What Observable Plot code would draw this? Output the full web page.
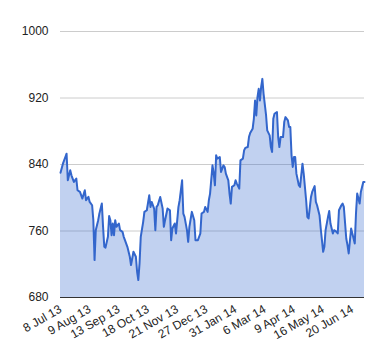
<!DOCTYPE html>
<html>
<head>
<meta charset="utf-8">
<script src="https://cdn.jsdelivr.net/npm/d3@7"></script>
<script src="https://cdn.jsdelivr.net/npm/@observablehq/plot@0.6"></script>
<style>
  html, body { margin: 0; padding: 0; background: #ffffff; }
  #chart { width: 380px; height: 360px; }
</style>
</head>
<body>
<div id="chart"></div>
<script>
// Trading-day index (0 = 8 Jul 13) and closing values
const days = [0,2,4,5,6,8,9,11,13,14,16,18,20,21,23,24,26,27,28,29,31,32,34,35,36,37,39,40,41,42,43,44,45,46,48,49,51,52,53,55,57,58,60,62,63,64,65,66,68,69,71,73,74,75,77,78,79,80,82,84,85,86,88,90,91,92,94,95,97,98,100,101,102,104,105,106,108,110,111,113,115,116,118,119,121,122,123,125,126,127,128,129,131,132,134,135,136,138,139,140,141,143,144,145,147,148,150,151,152,154,155,156,158,159,160,161,162,163,164,165,166,167,169,170,172,173,174,175,176,178,179,180,181,183,184,185,187,188,189,190,191,192,193,194,196,197,199,200,202,203,204,206,207,209,210,211,213,214,216,217,218,220,221,222,224,225,227,228,229,231,232,233,235,236,237,239,240,242,243,244,246,247,249,250];
const values = [830,841,849,853,821,833,827,819,823,809,807,799,809,797,801,795,791,773,725,761,773,781,793,765,741,740,753,778,773,755,769,755,773,765,769,761,759,753,749,741,729,719,735,729,711,701,721,753,771,783,785,803,789,795,787,761,789,791,801,787,765,773,787,785,749,763,769,757,789,797,821,781,777,761,747,765,783,773,749,749,757,781,783,789,783,797,805,839,829,815,851,847,849,831,839,837,829,821,805,793,813,815,821,817,811,845,847,857,860,861,873,878,883,895,917,899,921,931,917,933,943,925,900,881,875,861,855,895,901,903,873,861,873,873,891,897,893,885,885,851,837,849,849,829,815,813,841,829,797,777,775,801,807,814,795,791,779,763,735,741,761,777,784,769,757,761,759,757,785,791,793,789,751,743,733,763,757,745,781,805,793,807,819,819];

const tickDays = [0,24,48,72,96,120,144,168,192,216,240];
const tickLabels = ["8 Jul 13","9 Aug 13","13 Sep 13","18 Oct 13","21 Nov 13","27 Dec 13","31 Jan 14","6 Mar 14","9 Apr 14","16 May 14","20 Jun 14"];
const yTicks = [680,760,840,920,1000];

const data = days.map((d, i) => ({day: d, value: values[i]}));
const xTicks = tickDays.map((d, i) => ({day: d, label: tickLabels[i]}));

const chart = Plot.plot({
  width: 380,
  height: 360,
  marginLeft: 60,
  marginRight: 16,
  marginTop: 31,
  marginBottom: 63,
  style: {fontFamily: "'Liberation Sans', Arial, sans-serif", fontSize: "12px", background: "#ffffff", color: "#222"},
  x: {domain: [0, 250], axis: null},
  y: {domain: [680, 1000], axis: null},
  marks: [
    Plot.ruleY(yTicks.slice(1), {stroke: "#cccccc", strokeWidth: 1}),
    Plot.areaY(data, {x: "day", y1: 680, y2: "value", fill: "#3366cc", fillOpacity: 0.3}),
    Plot.lineY(data, {x: "day", y: "value", stroke: "#3366cc", strokeWidth: 2}),
    Plot.ruleY([680], {stroke: "#333333", strokeWidth: 1}),
    Plot.text(yTicks, {y: d => d, frameAnchor: "left", textAnchor: "end", dx: -12, text: d => String(d), fontSize: 12, fill: "#222"}),
    Plot.text(xTicks, {x: "day", frameAnchor: "bottom", text: "label", rotate: -30, textAnchor: "end", dx: 2, dy: 14, fontSize: 12, fill: "#222"})
  ]
});
document.getElementById("chart").appendChild(chart);
</script>
</body>
</html>
